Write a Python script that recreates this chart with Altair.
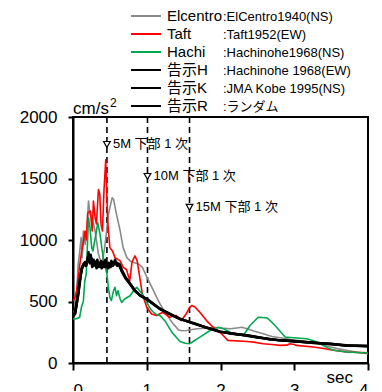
import altair as alt
import pandas as pd

FONT = "Liberation Sans, Arial, Noto Sans CJK JP"

# ---- data (period in sec, acceleration in cm/s^2) ----
elc_t = [0.00, 0.03, 0.055, 0.07, 0.09, 0.11, 0.125, 0.14, 0.165, 0.19, 0.21, 0.23, 0.26, 0.30, 0.345,
         0.39, 0.43, 0.48, 0.53, 0.55, 0.59, 0.64, 0.68, 0.73, 0.775, 0.82, 0.89, 0.94, 1.00, 1.05,
         1.09, 1.13, 1.18, 1.22, 1.27, 1.32, 1.36, 1.40, 1.43, 1.48, 1.54, 1.60, 1.68, 1.80, 1.90,
         2.00, 2.13, 2.22, 2.29, 2.36, 2.45, 2.58, 2.70, 2.81, 2.95, 3.03, 3.15, 3.26, 3.35, 3.49,
         3.60, 3.71, 3.85, 4.00]
elc_v = [380, 450, 615, 804, 900, 1019, 857, 1073, 965, 1100, 1316, 1210, 1180, 1073, 884,
         804, 938, 1208, 1343, 1330, 1208, 1073, 938, 857, 830, 818, 804, 780, 700, 640,
         590, 540, 480, 440, 400, 350, 318, 290, 268, 262, 264, 270, 278, 282, 290,
         285, 278, 285, 291, 278, 260, 237, 215, 205, 190, 184, 176, 168, 155, 130,
         115, 103, 88, 76]

taft_t = [0.00, 0.02, 0.05, 0.09, 0.115, 0.136, 0.163, 0.18, 0.20, 0.236, 0.26, 0.277, 0.30, 0.318,
          0.345, 0.363, 0.38, 0.40, 0.42, 0.444, 0.47, 0.50, 0.535, 0.57, 0.64, 0.68, 0.725, 0.77,
          0.80, 0.84, 0.87, 0.906, 0.94, 1.00, 1.065, 1.13, 1.22, 1.31, 1.40, 1.47, 1.54, 1.585,
          1.61, 1.65, 1.72, 1.81, 1.90, 1.99, 2.05, 2.10, 2.36, 2.45, 2.58, 2.70, 2.81, 2.90, 2.94,
          3.00, 3.03, 3.26, 3.40, 3.49, 3.71, 4.00]
taft_v = [507, 520, 590, 790, 900, 965, 1073, 1000, 1221, 1235, 1073, 1316, 1180, 1130,
          1410, 1372, 1127, 1073, 1400, 1653, 1154, 938, 911, 857, 830, 777, 760, 669,
          820, 871, 830, 695, 561, 453, 399, 386, 412, 372, 386, 345, 405, 455,
          467, 458, 412, 345, 291, 251, 215, 184, 175, 170, 157, 150, 143, 145, 157,
          150, 143, 130, 118, 108, 89, 82]

hachi_t = [0.00, 0.05, 0.09, 0.114, 0.14, 0.16, 0.18, 0.21, 0.23, 0.254, 0.27, 0.31, 0.336, 0.367,
           0.39, 0.41, 0.43, 0.46, 0.48, 0.50, 0.52, 0.55, 0.57, 0.59, 0.61, 0.64, 0.66, 0.70,
           0.775, 0.82, 0.865, 0.94, 1.00, 1.05, 1.09, 1.13, 1.18, 1.25, 1.30, 1.34, 1.40, 1.45,
           1.52, 1.585, 1.63, 1.72, 1.86, 1.97, 2.04, 2.10, 2.17, 2.25, 2.31, 2.40, 2.51, 2.63,
           2.70, 2.76, 2.88, 2.99, 3.17, 3.26, 3.35, 3.45, 3.53, 3.71, 4.00]
hachi_v = [359, 360, 372, 453, 500, 669, 723, 1181, 1100, 938, 911, 1046, 1140, 1046,
           938, 857, 804, 723, 615, 534, 507, 588, 615, 547, 588, 520, 493, 520,
           547, 588, 615, 560, 493, 440, 412, 395, 386, 340, 290, 251, 210, 175,
           160, 157, 175, 210, 264, 291, 278, 260, 237, 228, 224, 305, 372, 367,
           330, 290, 210, 205, 197, 180, 157, 125, 103, 89, 81]

kokuji_h_t = [0.00, 0.03, 0.07, 0.10, 0.12, 0.14, 0.16, 0.18, 0.20, 0.21, 0.22, 0.24, 0.26, 0.28,
              0.30, 0.32, 0.34, 0.36, 0.38, 0.40, 0.42, 0.44, 0.46, 0.48, 0.50, 0.52, 0.54, 0.56,
              0.59, 0.63, 0.66, 0.71, 0.775, 0.84, 0.91, 1.00, 1.09, 1.18, 1.27, 1.36, 1.45, 1.585,
              1.70, 1.80, 1.99, 2.15, 2.36, 2.50, 2.65, 2.81, 3.00, 3.26, 3.50, 3.71, 4.00]
kokuji_h_v = [380, 399, 561, 700, 776, 800, 815, 790, 850, 900, 830, 880, 800, 840,
              790, 830, 790, 815, 780, 820, 790, 840, 790, 815, 800, 830, 790, 820,
              815, 804, 750, 696, 642, 588, 547, 520, 480, 440, 412, 385, 359, 332,
              310, 290, 255, 240, 224, 210, 195, 184, 176, 165, 155, 143, 138]

kokuji_k_t = [0.00, 0.03, 0.07, 0.10, 0.12, 0.15, 0.17, 0.19, 0.215, 0.23, 0.25, 0.27, 0.29, 0.31,
              0.33, 0.35, 0.37, 0.39, 0.41, 0.43, 0.45, 0.47, 0.49, 0.51, 0.53, 0.55, 0.57, 0.60,
              0.63, 0.66, 0.71, 0.775, 0.84, 0.91, 1.00, 1.09, 1.18, 1.27, 1.36, 1.45, 1.585, 1.70,
              1.80, 1.99, 2.15, 2.36, 2.50, 2.65, 2.81, 3.00, 3.26, 3.50, 3.71, 4.00]
kokuji_k_v = [380, 410, 550, 690, 770, 810, 790, 830, 870, 810, 850, 790, 820, 800,
              840, 780, 810, 770, 800, 830, 780, 810, 790, 780, 820, 800, 840, 790,
              800, 760, 700, 645, 590, 550, 518, 478, 442, 410, 386, 361, 330, 308,
              292, 257, 238, 226, 212, 194, 186, 174, 167, 153, 145, 136]

kokuji_r_t = [0.00, 0.03, 0.07, 0.10, 0.12, 0.14, 0.16, 0.18, 0.20, 0.22, 0.24, 0.26, 0.28, 0.30,
              0.32, 0.34, 0.36, 0.38, 0.40, 0.42, 0.44, 0.46, 0.48, 0.50, 0.53, 0.56, 0.59, 0.63,
              0.66, 0.71, 0.775, 0.84, 0.91, 1.00, 1.09, 1.18, 1.27, 1.36, 1.45, 1.585, 1.70, 1.80,
              1.99, 2.15, 2.36, 2.50, 2.65, 2.81, 3.00, 3.26, 3.50, 3.71, 4.00]
kokuji_r_v = [375, 420, 570, 710, 760, 795, 820, 800, 860, 820, 870, 780, 820, 810,
              770, 810, 790, 830, 800, 780, 820, 800, 770, 810, 790, 810, 800, 790,
              745, 690, 640, 585, 550, 522, 482, 438, 414, 383, 357, 334, 312, 288,
              253, 242, 222, 208, 197, 182, 178, 163, 157, 141, 139]

series_names = ["Elcentro", "Taft", "Hachi", "告示H", "告示K", "告示R"]
series_desc = [":ElCentro1940(NS)", ":Taft1952(EW)", ":Hachinohe1968(NS)",
               ":Hachinohe 1968(EW)", ":JMA Kobe 1995(NS)", ":ランダム"]
series_colors = ["#8a8a8a", "#ff0000", "#00a850", "#000000", "#000000", "#000000"]
series_widths = [1.6, 1.6, 1.6, 2.5, 2.5, 2.5]
series_data = [(elc_t, elc_v), (taft_t, taft_v), (hachi_t, hachi_v),
               (kokuji_h_t, kokuji_h_v), (kokuji_k_t, kokuji_k_v), (kokuji_r_t, kokuji_r_v)]

dash_t = [0.46, 1.01, 1.58]
ann_v = [1777, 1517, 1266]
ann_text = ["5M 下部 1 次", "10M 下部 1 次", "15M 下部 1 次"]

x_ticks = [0, 1, 2, 3, 4]
y_ticks = [0, 500, 1000, 1500, 2000]

# ---- scales / axes ----
xs = alt.Scale(domain=[0, 4], nice=False, zero=False)
ys = alt.Scale(domain=[0, 2000], nice=False)
xax = alt.Axis(values=x_ticks, format="d", title=None, grid=False, tickSize=7, tickWidth=2,
               domainWidth=2, domainColor="black", tickColor="black", labelFontSize=17,
               labelFont=FONT, labelColor="black", labelPadding=12)
yax = alt.Axis(values=y_ticks, format="d", title=None, grid=False, tickSize=5, tickWidth=2,
               domainWidth=2, domainColor="black", tickColor="black", labelFontSize=17,
               labelFont=FONT, labelColor="black", labelPadding=11)

layers = []

# dashed vertical lines
dash_df = pd.DataFrame({"t": dash_t, "lo": [0] * len(dash_t), "hi": [2000] * len(dash_t)})
layers.append(
    alt.Chart(dash_df).mark_rule(color="black", strokeWidth=1.6, strokeDash=[6, 4]).encode(
        x=alt.X("t:Q", scale=xs, axis=xax),
        y=alt.Y("lo:Q", scale=ys, axis=yax),
        y2="hi:Q",
    )
)

# spectra
for name, (tt, vv), col, w in zip(series_names, series_data, series_colors, series_widths):
    df = pd.DataFrame({"t": tt, "v": vv, "o": list(range(len(tt)))})
    layers.append(
        alt.Chart(df).mark_line(color=col, strokeWidth=w, strokeJoin="round").encode(
            x=alt.X("t:Q", scale=xs, axis=xax),
            y=alt.Y("v:Q", scale=ys, axis=yax),
            order="o:Q",
        )
    )

# annotations
ann_df = pd.DataFrame({"t": dash_t, "v": ann_v, "txt": ann_text})
layers.append(
    alt.Chart(ann_df).mark_point(shape="triangle-down", filled=True, fill="white", stroke="black",
                                 strokeWidth=1.2, size=45, opacity=1).encode(
        x=alt.X("t:Q", scale=xs, axis=xax),
        y=alt.Y("v:Q", scale=ys, axis=yax),
    )
)
layers.append(
    alt.Chart(ann_df).mark_text(align="left", baseline="middle", dx=6, fontSize=13, font=FONT,
                                color="black").encode(
        x=alt.X("t:Q", scale=xs, axis=xax),
        y=alt.Y("v:Q", scale=ys, axis=yax),
        text="txt:N",
    )
)

# unit labels
one = pd.DataFrame({"a": [0]})
layers.append(alt.Chart(one).mark_text(text="cm/s", align="left", baseline="alphabetic",
                                       fontSize=17, font=FONT, color="black").encode(
    x=alt.value(0), y=alt.value(-3)))
layers.append(alt.Chart(one).mark_text(text="2", align="left", baseline="alphabetic",
                                       fontSize=12, font=FONT, color="black").encode(
    x=alt.value(37), y=alt.value(-10)))
layers.append(alt.Chart(one).mark_text(text="sec", align="right", baseline="alphabetic",
                                       fontSize=17, font=FONT, color="black").encode(
    x=alt.value(280), y=alt.value(266)))

# legend (manual, two text columns)
leg_y = [-101, -83, -65, -47, -29, -11]
for name, desc, col, yy in zip(series_names, series_desc, series_colors, leg_y):
    layers.append(alt.Chart(one).mark_rule(color=col, strokeWidth=2).encode(
        x=alt.value(58), x2=alt.value(88), y=alt.value(yy)))
    layers.append(alt.Chart(one).mark_text(text=name, align="left", baseline="middle",
                                           fontSize=15, font=FONT, color="black").encode(
        x=alt.value(94), y=alt.value(yy)))
    layers.append(alt.Chart(one).mark_text(text=desc, align="left", baseline="middle",
                                           fontSize=13, font=FONT, color="black").encode(
        x=alt.value(150), y=alt.value(yy + 1)))

chart = alt.layer(*layers).properties(
    width=295, height=246,
    padding={"left": 65, "top": 109, "right": 6, "bottom": 28},
    autosize=alt.AutoSizeParams(type="none"),
    background="white",
).configure_view(stroke="black", strokeWidth=2)

chart.save("out.html", embed_options={"renderer": "svg", "actions": False})
